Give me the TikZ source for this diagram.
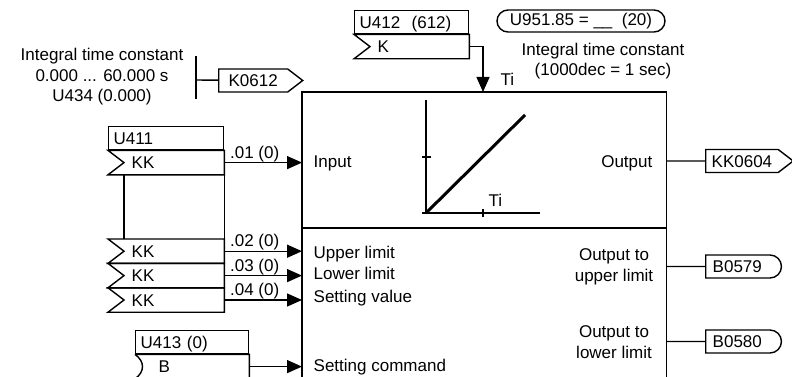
\documentclass[tikz,border=0pt]{standalone}
\usepackage{fontspec}
\setmainfont{Liberation Sans}
\usetikzlibrary{arrows.meta,calc,positioning,shapes.symbols,shapes.misc}
\tikzset{
  hdr/.style={draw,anchor=north west,minimum height=23pt,inner xsep=5pt,inner ysep=0pt,align=left,text height=12.2pt,text depth=0pt},
  pinrow/.style={anchor=north west,minimum height=23pt,inner xsep=23pt,inner ysep=0pt,align=left,text height=12.2pt,text depth=0pt},
  idx/.style={anchor=base west,inner sep=0pt,xshift=5pt,yshift=4.5pt},
  port/.style={inner sep=0pt,text height=12.2pt,text depth=0pt},
  sigout/.style={draw,signal,signal to=east,signal pointer angle=75,minimum height=23pt,anchor=west,inner xsep=6pt,text height=12.2pt,text depth=0pt},
  binout/.style={draw,rounded rectangle,rounded rectangle left arc=none,minimum height=23pt,anchor=west,inner xsep=7pt,text height=12.2pt,text depth=0pt,align=left}
}
\begin{document}
\begin{tikzpicture}[x=1pt,y=-1pt,line width=1.4pt,>={Triangle[length=15pt,width=13pt]},font=\fontsize{17}{20.5}\selectfont]
  \useasboundingbox (0,0) rectangle (792,377);
  % integrator block
  \node[minimum width=363pt,minimum height=285pt,anchor=north west,inner sep=0pt] (blk) at (302,92) {};
  \draw (blk.south west) -- (blk.north west) -- (blk.north east) -- (blk.south east);
  \coordinate (mid) at (302,228);
  \draw (mid) -- (mid -| blk.east);
  % ramp characteristic
  \draw (426,100) -- (426,213) -- (540,213);
  \draw (422,213) -- (426,213);
  \draw (422,157) -- (431,157);
  \draw (483,209) -- (483,217);
  \draw[line width=3pt] (426,213) -- (525,115);
  \node[port,anchor=west] (tiax) at (488,200) {Ti};
  % port texts
  \node[port,anchor=west] (pin) at (313,161) {Input};
  \node[port,anchor=west] (pup) at (313,252) {Upper limit};
  \node[port,anchor=west] (plo) at (313,273) {Lower limit};
  \node[port,anchor=west] (pset) at (313,296) {Setting value};
  \node[port,anchor=west] (pcmd) at (313,365) {Setting command};
  \node[port,anchor=east] (pout) at (653,161) {Output};
  \node[align=center,inner sep=0pt] (pqu) at (614,267) {Output to\\upper limit};
  \node[align=center,inner sep=0pt] (pql) at (614,342) {Output to\\lower limit};
  % time constant parameter
  \node[align=center,inner sep=0pt] (tcdesc) at (102,77) {Integral time constant\\0.000 ... 60.000 s\\U434 (0.000)};
  \coordinate (tcbar) at (196,80);
  \draw ($(tcbar)+(0,-24)$) -- ($(tcbar)+(0,19)$);
  \node[sigout,minimum width=84pt] (k0612) at (218,80.5) {K0612};
  \draw (tcbar) -- (k0612);
  % Ti source
  \node[hdr,text width=104pt] (u412) at (354,10) {U412\ \ (612)};
  \node[pinrow,text width=68pt] (u412k) at (u412.south west) {K};
  \draw (u412k.north west) -- (u412k.north east) -- (u412k.south east) -- (u412k.south west) -- ($(u412k.west)+(16,0)$) -- cycle;
  \coordinate (ti) at (483,92);
  \draw[->] (u412k.east) -| (ti);
  \node[port,anchor=west] (tilbl) at (500,79) {Ti};
  \node[draw,rounded rectangle,minimum width=168pt,minimum height=22pt,inner sep=0pt] (u951) at (581,21) {U951.85 = \_\_\ \ (20)};
  \node[align=center,inner sep=0pt] (u951txt) at (603,61) {Integral time constant\\(1000dec = 1 sec)};
  % input connectors
  \node[hdr,text width=105pt] (u411) at (108,126) {U411};
  \node[pinrow,text width=69pt] (kk1) at (u411.south west) {KK};
  \node[pinrow,text width=69pt] (kk2) at (108,239) {KK};
  \node[pinrow,text width=69pt] (kk3) at (kk2.south west) {KK};
  \node[pinrow,text width=69pt] (kk4) at (kk3.south west) {KK};
  \foreach \r in {kk1,kk2,kk3,kk4}
    \draw (\r.north west) -- (\r.north east) -- (\r.south east) -- (\r.south west) -- ($(\r.west)+(16,0)$) -- cycle;
  \draw ($(kk1.south west)+(16,0)$) -- ($(kk2.north west)+(16,0)$);
  \draw (kk1.south east) -- (kk2.north east);
  \draw[->] (kk1.east) node[idx]{.01 (0)} -- (kk1.east -| blk.west);
  \draw[->] (kk2.east) node[idx]{.02 (0)} -- (kk2.east -| blk.west);
  \draw[->] (kk3.east) node[idx]{.03 (0)} -- (kk3.east -| blk.west);
  \draw[->] (kk4.east) node[idx]{.04 (0)} -- (kk4.east -| blk.west);
  \node[hdr,text width=103pt] (u413) at (135,330) {U413 (0)};
  \node[pinrow,text width=67pt] (u413b) at (u413.south west) {B};
  \draw (u413b.north west) -- (u413b.north east) -- (u413b.south east) -- (u413b.south west) .. controls +(10,-7) and +(10,7) .. (u413b.north west);
  \draw[->] (u413b.east) -- (u413b.east -| blk.west);
  % outputs
  \node[sigout,minimum width=83pt] (kk0604) at (705,161) {KK0604};
  \draw (kk0604.west -| blk.east) -- (kk0604);
  \node[binout,text width=60pt] (b0579) at (705,266.5) {B0579};
  \draw (b0579.west -| blk.east) -- (b0579);
  \node[binout,text width=60pt] (b0580) at (705,341.5) {B0580};
  \draw (b0580.west -| blk.east) -- (b0580);
\end{tikzpicture}
\end{document}
